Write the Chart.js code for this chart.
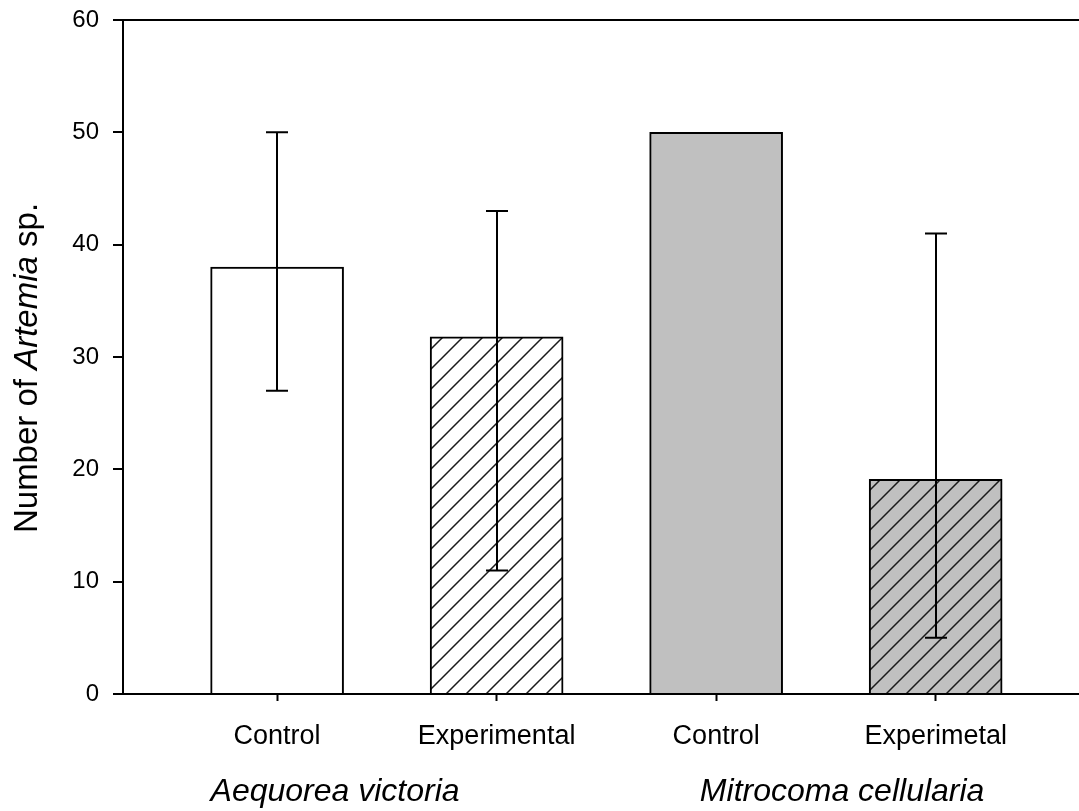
<!DOCTYPE html>
<html><head><meta charset="utf-8">
<script src="https://cdn.jsdelivr.net/npm/chart.js@4.4.0/dist/chart.umd.min.js"></script>
<style>html,body{margin:0;padding:0;background:#fff}#wrap{width:1079px;height:811px}</style>
</head><body><div id="wrap"><canvas id="c" width="1079" height="811"></canvas></div>
<script>
const categories = ['Control', 'Experimental', 'Control', 'Experimetal'];
const positions = [1, 2, 3, 4];
const means = [38, 31.8, 50, 19.1];
const errLow = [27, 11, null, 5];
const errHigh = [50, 43, null, 41];
const groups = ['Aequorea victoria', 'Mitrocoma cellularia'];
const yTicks = [0, 10, 20, 30, 40, 50, 60];

const FONT = "'Liberation Sans', Arial, sans-serif";

function hatch(bg) {
  const s = 20;
  const c = document.createElement('canvas');
  c.width = s; c.height = s;
  const g = c.getContext('2d');
  g.fillStyle = bg; g.fillRect(0, 0, s, s);
  g.strokeStyle = '#1a1a1a'; g.lineWidth = 1.5;
  g.beginPath();
  g.moveTo(-2, s + 2); g.lineTo(s + 2, -2);
  g.moveTo(-2, 2); g.lineTo(2, -2);
  g.moveTo(s - 2, s + 2); g.lineTo(s + 2, s - 2);
  g.stroke();
  return g.createPattern(c, 'repeat');
}

const ctx = document.getElementById('c').getContext('2d');
const fills = ['#ffffff', hatch('#ffffff'), '#c0c0c0', hatch('#c0c0c0')];

const extras = {
  id: 'extras',
  afterDatasetsDraw(chart) {
    const { ctx } = chart;
    const x = chart.scales.x, y = chart.scales.y;
    ctx.save();
    ctx.strokeStyle = '#000'; ctx.lineWidth = 2;
    positions.forEach((p, i) => {
      if (errLow[i] == null) return;
      const px = Math.round(x.getPixelForValue(p));
      const yl = y.getPixelForValue(errLow[i]);
      const yh = y.getPixelForValue(errHigh[i]);
      ctx.beginPath();
      ctx.moveTo(px, yl); ctx.lineTo(px, yh);
      ctx.moveTo(px - 11, yl); ctx.lineTo(px + 11, yl);
      ctx.moveTo(px - 11, yh); ctx.lineTo(px + 11, yh);
      ctx.stroke();
    });
    ctx.restore();
  },
  afterDraw(chart) {
    const { ctx } = chart;
    ctx.save();
    ctx.fillStyle = '#000';
    const gx = [1.264, 3.574];
    ctx.font = 'italic 32px ' + FONT;
    ctx.textAlign = 'center'; ctx.textBaseline = 'alphabetic';
    groups.forEach((g, i) => {
      ctx.fillText(g, chart.scales.x.getPixelForValue(gx[i]), 801);
    });
    const parts = [['Number of ', 'normal'], ['Artemia', 'italic'], [' sp.', 'normal']];
    const size = 33;
    let total = 0;
    parts.forEach(p => { ctx.font = p[1] + ' ' + size + 'px ' + FONT; total += ctx.measureText(p[0]).width; });
    ctx.translate(37, 368);
    ctx.rotate(-Math.PI / 2);
    ctx.textAlign = 'left';
    let cx = -total / 2;
    parts.forEach(p => {
      ctx.font = p[1] + ' ' + size + 'px ' + FONT;
      ctx.fillText(p[0], cx, 0);
      cx += ctx.measureText(p[0]).width;
    });
    ctx.restore();
  }
};

new Chart(ctx, {
  type: 'bar',
  data: {
    datasets: [{
      data: positions.map((p, i) => ({ x: p, y: means[i] })),
      backgroundColor: fills,
      borderColor: '#000',
      borderWidth: 2,
      barThickness: 133
    }]
  },
  options: {
    responsive: false,
    devicePixelRatio: 1,
    animation: false,
    layout: { padding: { top: 20, right: 0, left: 0, bottom: 0 } },
    plugins: { legend: { display: false }, tooltip: { enabled: false } },
    scales: {
      x: {
        type: 'linear',
        offset: false,
        min: 0.298,
        max: 4.653,
        afterBuildTicks: s => { s.ticks = positions.map(v => ({ value: v })); },
        afterFit: s => { s.height = 117; s.paddingLeft = 0; s.paddingRight = 0; },
        ticks: {
          callback: v => { const i = positions.indexOf(v); return i >= 0 ? categories[i] : ''; },
          font: { family: FONT, size: 27 },
          color: '#000',
          padding: 19,
          maxRotation: 0,
          autoSkip: false
        },
        grid: { offset: false, drawOnChartArea: false, drawTicks: true, tickLength: 7, tickColor: '#000', tickWidth: 2 },
        border: { display: true, color: '#000', width: 2 }
      },
      y: {
        min: 0,
        max: 60,
        afterBuildTicks: s => { s.ticks = yTicks.map(v => ({ value: v })); },
        afterFit: s => { s.width = 123; s.paddingTop = 0; s.paddingBottom = 0; },
        ticks: {
          font: { family: FONT, size: 24 },
          color: '#000',
          padding: 14
        },
        grid: {
          drawOnChartArea: true,
          color: c => (c.tick && c.tick.value === 60) ? '#000' : 'rgba(0,0,0,0)',
          lineWidth: 2,
          tickLength: 10,
          tickColor: '#000',
          tickWidth: 2
        },
        border: { display: true, color: '#000', width: 2 }
      }
    }
  },
  plugins: [extras]
});
</script>
</body></html>
